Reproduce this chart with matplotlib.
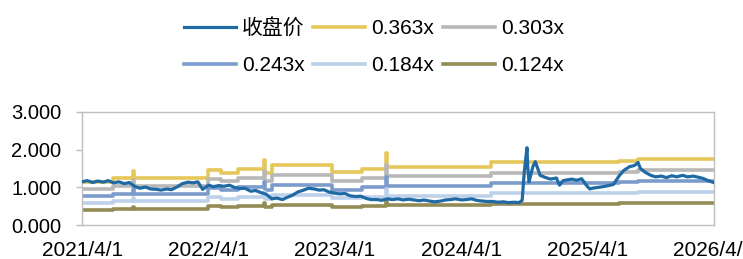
import pandas as pd
import matplotlib
matplotlib.use("Agg")
import matplotlib.pyplot as plt

plt.rcParams["font.family"] = ["Liberation Sans", "Noto Sans CJK SC", "DejaVu Sans"]

# Close price (semi-monthly readings)
close_dates = [
    "2021-04-01", "2021-04-15", "2021-05-01", "2021-05-15", "2021-06-01", "2021-06-15",
    "2021-07-01", "2021-07-15", "2021-08-01", "2021-08-15", "2021-09-01", "2021-09-15",
    "2021-10-01", "2021-10-15", "2021-11-01", "2021-11-15", "2021-12-01", "2021-12-15",
    "2022-01-01", "2022-01-15", "2022-02-01", "2022-02-15", "2022-03-01", "2022-03-15",
    "2022-04-01", "2022-04-15", "2022-05-01", "2022-05-15", "2022-06-01", "2022-06-15",
    "2022-07-01", "2022-07-15", "2022-08-01", "2022-08-15", "2022-09-01", "2022-09-15",
    "2022-10-01", "2022-10-15", "2022-11-01", "2022-11-15", "2022-12-01", "2022-12-15",
    "2023-01-01", "2023-01-15", "2023-02-01", "2023-02-15", "2023-03-01", "2023-03-15",
    "2023-04-01", "2023-04-15", "2023-05-01", "2023-05-15", "2023-06-01", "2023-06-15",
    "2023-07-01", "2023-07-15", "2023-08-01", "2023-08-15", "2023-09-01", "2023-09-15",
    "2023-10-01", "2023-10-15", "2023-11-01", "2023-11-15", "2023-12-01", "2023-12-15",
    "2024-01-01", "2024-01-15", "2024-02-01", "2024-02-15", "2024-03-01", "2024-03-15",
    "2024-04-01", "2024-04-15", "2024-05-01", "2024-05-15", "2024-06-01", "2024-06-15",
    "2024-07-01", "2024-07-15", "2024-08-01", "2024-08-15", "2024-09-01", "2024-09-15",
    "2024-09-24", "2024-09-27", "2024-09-30", "2024-10-08", "2024-10-10", "2024-10-14",
    "2024-10-18", "2024-10-25", "2024-11-01", "2024-11-08", "2024-11-15", "2024-12-01",
    "2024-12-15", "2025-01-01", "2025-01-10", "2025-01-20", "2025-02-01", "2025-02-15",
    "2025-03-01", "2025-03-15", "2025-04-01", "2025-04-08", "2025-04-15", "2025-05-01",
    "2025-05-15", "2025-06-01", "2025-06-15", "2025-07-01", "2025-07-15", "2025-08-01",
    "2025-08-15", "2025-08-25", "2025-09-01", "2025-09-15", "2025-10-01", "2025-10-15",
    "2025-11-01", "2025-11-15", "2025-12-01", "2025-12-15", "2026-01-01", "2026-01-15",
    "2026-02-01", "2026-02-15", "2026-03-01", "2026-03-15", "2026-04-01",
]
close_values = [
    1.15, 1.18, 1.13, 1.17, 1.14, 1.18,
    1.12, 1.15, 1.10, 1.13, 1.02, 0.98,
    1.01, 0.96, 0.95, 0.93, 0.96, 0.94,
    1.02, 1.10, 1.14, 1.12, 1.15, 0.95,
    1.06, 1.02, 1.05, 1.03, 1.06, 1.00,
    0.97, 0.98, 0.90, 0.92, 0.86, 0.82,
    0.70, 0.72, 0.68, 0.74, 0.80, 0.88,
    0.93, 0.98, 0.96, 0.93, 0.94, 0.88,
    0.85, 0.83, 0.84, 0.78, 0.76, 0.77,
    0.71, 0.68, 0.68, 0.66, 0.70, 0.68,
    0.70, 0.67, 0.69, 0.67, 0.65, 0.67,
    0.64, 0.62, 0.64, 0.67, 0.68, 0.70,
    0.67, 0.68, 0.70, 0.66, 0.64, 0.63,
    0.63, 0.61, 0.62, 0.60, 0.61, 0.60,
    0.66, 1.05, 1.40, 2.05, 1.55, 1.15,
    1.30, 1.55, 1.68, 1.50, 1.32, 1.26,
    1.22, 1.25, 1.06, 1.18, 1.20, 1.22,
    1.19, 1.23, 1.02, 0.96, 0.98, 1.00,
    1.02, 1.05, 1.08, 1.30, 1.45, 1.55,
    1.58, 1.66, 1.50, 1.40, 1.32, 1.28,
    1.30, 1.26, 1.31, 1.28, 1.32, 1.28,
    1.30, 1.27, 1.24, 1.18, 1.13,
]

# Book value per share, stepwise (bands = multiple x BVPS)
bvps_dates = [
    "2021-04-01", "2021-06-30", "2021-08-25", "2021-08-27", "2022-03-30",
    "2022-05-06", "2022-06-24", "2022-09-09", "2022-09-12", "2022-10-01",
    "2023-03-25", "2023-06-20", "2023-08-28", "2023-08-31", "2024-06-26",
    "2025-07-01", "2025-08-24", "2026-04-01",
]
bvps_values = [
    3.17, 3.44, 3.97, 3.44, 4.05,
    3.83, 4.13, 4.74, 3.83, 4.38,
    3.88, 4.13, 5.23, 4.27, 4.57,
    4.68, 4.79, 4.79,
]

multiples = [0.363, 0.303, 0.243, 0.184, 0.124]
band_labels = ["0.363x", "0.303x", "0.243x", "0.184x", "0.124x"]
band_colors = ["#E6C75A", "#B8B8B8", "#7B9BCB", "#BDD2EA", "#948B55"]

xtick_dates = ["2021-04-01", "2022-04-01", "2023-04-01", "2024-04-01", "2025-04-01", "2026-04-01"]
xtick_labels = ["2021/4/1", "2022/4/1", "2023/4/1", "2024/4/1", "2025/4/1", "2026/4/1"]
yticks = [0, 1, 2, 3]

cd = pd.to_datetime(close_dates)
bd = pd.to_datetime(bvps_dates)
bv = pd.Series(bvps_values)

fig = plt.figure(figsize=(7.43, 2.59), dpi=100)
ax = fig.add_axes([0.1108, 0.130, 0.8498, 0.4387])

handles = []
h, = ax.plot(cd, close_values, color="#1F6AA5", lw=2.3, label="收盘价", zorder=5)
handles.append(h)
for k, lab, col in zip(multiples, band_labels, band_colors):
    h, = ax.plot(bd, bv * k, color=col, lw=2.6, drawstyle="steps-post", label=lab)
    handles.append(h)

ax.set_xlim(pd.Timestamp("2021-04-01"), pd.Timestamp("2026-04-01"))
ax.set_ylim(0, 3)
ax.set_yticks(yticks)
ax.set_yticklabels([f"{v:.3f}" for v in yticks])
ax.set_xticks(pd.to_datetime(xtick_dates))
ax.set_xticklabels(xtick_labels)

for s in ax.spines.values():
    s.set_color("#BFBFBF")
    s.set_linewidth(1.0)
ax.tick_params(axis="y", length=4, width=1.0, color="#BFBFBF", labelsize=14.5, pad=11)
ax.tick_params(axis="x", length=0, labelsize=15, pad=11)

order = [0, 3, 1, 4, 2, 5]
fig.legend([handles[i] for i in order], [handles[i].get_label() for i in order],
           loc="center", bbox_to_anchor=(0.503, 0.8197), ncol=3, frameon=False,
           fontsize=15, handlelength=2.5, handletextpad=0.3, columnspacing=0.4,
           labelspacing=0.88, borderpad=0)

fig.savefig("out.png", dpi=100)
